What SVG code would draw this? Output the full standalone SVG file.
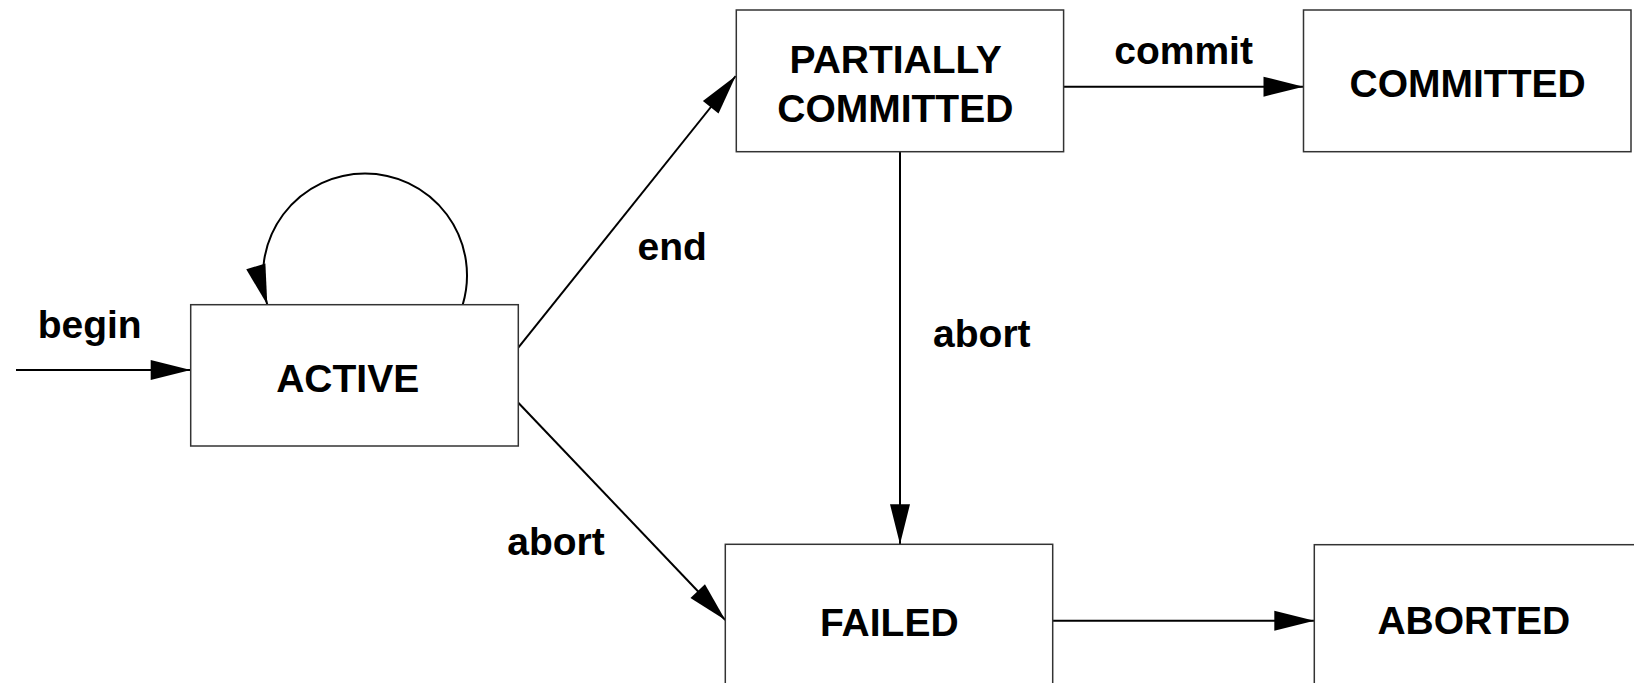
<svg xmlns="http://www.w3.org/2000/svg" width="1634" height="683" viewBox="0 0 1634 683">
<style>
.box{fill:#fff;stroke:#333;stroke-width:1.5}
.lbl{font-family:"Liberation Sans",Arial,Helvetica,sans-serif;font-weight:bold;font-size:39px;fill:#000;text-anchor:middle}
.edge{fill:none;stroke:#000;stroke-width:2}
</style>
<defs>
<marker id="arr" markerUnits="userSpaceOnUse" markerWidth="40" markerHeight="20" refX="40" refY="10" orient="auto" overflow="visible">
<path d="M0,0 L40,10 L0,20 z" fill="#000"/>
</marker>
</defs>
<rect width="1634" height="683" fill="#fff"/>
<g id="connectors">
<path class="edge" d="M16,370 H190.7" marker-end="url(#arr)"/>
<path class="edge" d="M462.7,304.7 A102,102 0 1 0 267.3,304.7" marker-end="url(#arr)"/>
<path class="edge" d="M518.3,347.7 L735.7,76" marker-end="url(#arr)"/>
<path class="edge" d="M1063.6,86.7 H1303.5" marker-end="url(#arr)"/>
<path class="edge" d="M900,151.7 V544.3" marker-end="url(#arr)"/>
<path class="edge" d="M518.3,402.7 L725.3,620" marker-end="url(#arr)"/>
<path class="edge" d="M1052.7,620.7 H1314.3" marker-end="url(#arr)"/>
<text class="lbl" x="89.7" y="338">begin</text>
<text class="lbl" x="672.2" y="260">end</text>
<text class="lbl" x="1183.6" y="64">commit</text>
<text class="lbl" x="981.8" y="346.7">abort</text>
<text class="lbl" x="556" y="555">abort</text>
</g>
<g id="active">
<rect class="box" x="190.7" y="304.7" width="327.6" height="141.3"/>
<text class="lbl" x="347.7" y="391.7">ACTIVE</text>
</g>
<g id="partially-committed">
<rect class="box" x="736.3" y="10" width="327.3" height="141.7"/>
<text class="lbl" x="895.7" y="72.7">PARTIALLY</text>
<text class="lbl" x="895.3" y="121.7">COMMITTED</text>
</g>
<g id="committed">
<rect class="box" x="1303.5" y="10" width="327.5" height="141.7"/>
<text class="lbl" x="1467.6" y="96.7">COMMITTED</text>
</g>
<g id="failed">
<rect class="box" x="725.3" y="544.3" width="327.4" height="141.5"/>
<text class="lbl" x="889.3" y="636">FAILED</text>
</g>
<g id="aborted">
<rect class="box" x="1314.3" y="544.7" width="327.5" height="141.5"/>
<text class="lbl" x="1473.8" y="634">ABORTED</text>
</g>
</svg>
